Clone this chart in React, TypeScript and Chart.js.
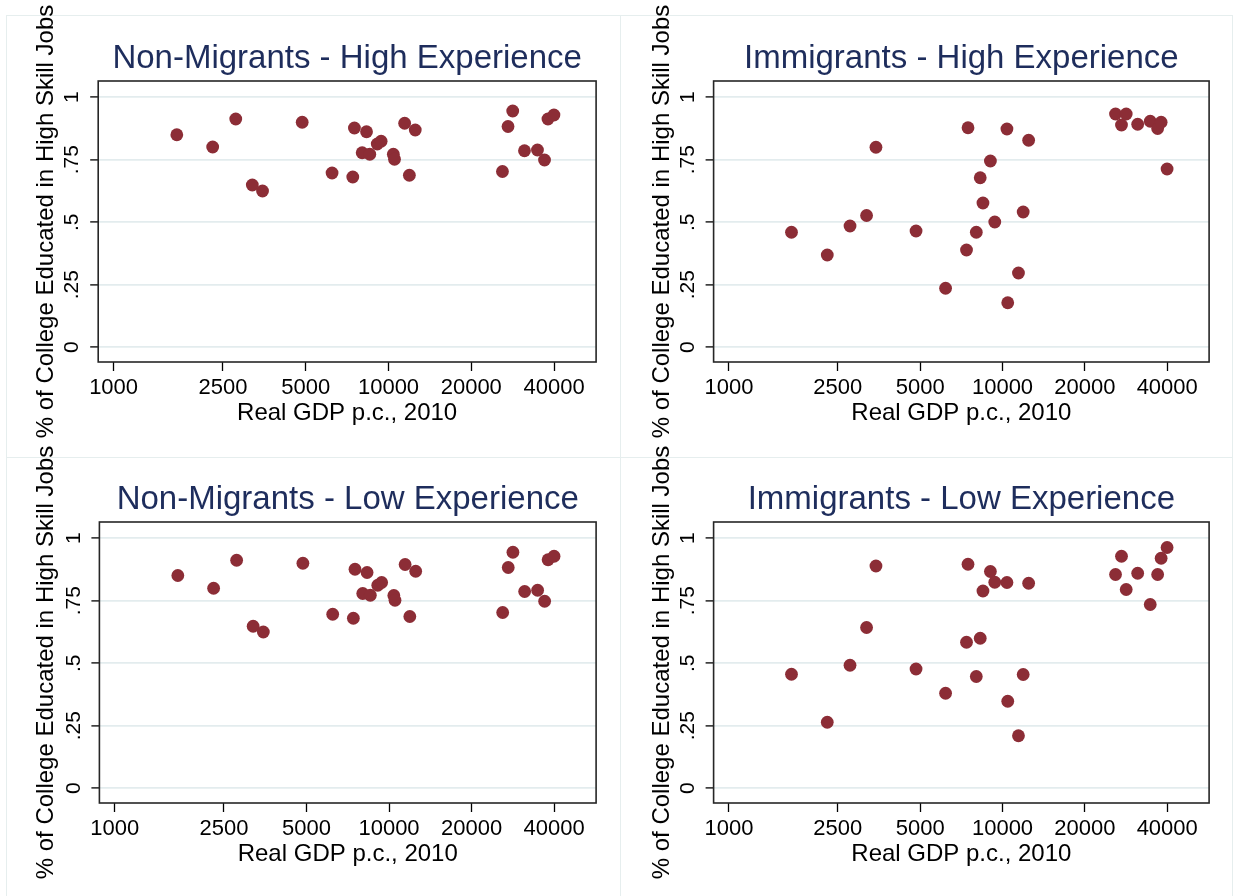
import React, { useEffect, useRef } from 'react';
import { Chart, registerables } from 'chart.js';

Chart.register(...registerables);

// ---- data ----
const gdpNonMigrants = [1698, 2293, 2782, 3196, 3481, 4853, 6233, 7413, 7516, 8020, 8318, 8549, 9100, 9400, 10413, 10515, 11448, 11909, 12510, 25970, 27210, 28300, 31230, 34820, 36940, 38020, 39970];
const shareNonMigrantsHigh = [0.850, 0.801, 0.913, 0.649, 0.625, 0.900, 0.697, 0.681, 0.877, 0.778, 0.862, 0.772, 0.813, 0.824, 0.772, 0.752, 0.896, 0.688, 0.869, 0.703, 0.883, 0.945, 0.786, 0.789, 0.749, 0.913, 0.929];
const shareNonMigrantsLow = [0.851, 0.800, 0.912, 0.648, 0.625, 0.900, 0.696, 0.680, 0.876, 0.779, 0.863, 0.772, 0.812, 0.823, 0.771, 0.752, 0.895, 0.687, 0.868, 0.703, 0.883, 0.944, 0.787, 0.792, 0.748, 0.914, 0.928];

const gdpImmigrants = [1693, 2288, 2771, 3185, 3447, 4830, 6193, 7386, 7480, 8020, 8290, 8482, 9031, 9370, 10380, 10450, 11437, 11900, 12460, 25890, 27220, 28320, 31190, 34670, 36900, 38000, 39950];
const shareImmigrantsHigh = [0.460, 0.369, 0.485, 0.527, 0.800, 0.465, 0.236, 0.389, 0.878, 0.460, 0.678, 0.577, 0.745, 0.501, 0.873, 0.178, 0.297, 0.541, 0.828, 0.933, 0.889, 0.933, 0.892, 0.904, 0.875, 0.900, 0.713];
const shareImmigrantsLow = [0.456, 0.264, 0.492, 0.643, 0.889, 0.477, 0.380, 0.584, 0.896, 0.447, 0.600, 0.789, 0.867, 0.824, 0.823, 0.348, 0.210, 0.455, 0.820, 0.855, 0.928, 0.795, 0.860, 0.735, 0.855, 0.920, 0.963];

const xTickValues = [1000, 2500, 5000, 10000, 20000, 40000];
const xTickLabels = ['1000', '2500', '5000', '10000', '20000', '40000'];
const yTickValues = [0, 0.25, 0.5, 0.75, 1];
const yTickLabels = ['0', '.25', '.5', '.75', '1'];

const panelTitles = [
  'Non-Migrants - High Experience',
  'Immigrants - High Experience',
  'Non-Migrants - Low Experience',
  'Immigrants - Low Experience',
];
const xAxisTitle = 'Real GDP p.c., 2010';
const yAxisTitle = '% of College Educated in High Skill Jobs';

const FONT = "'Liberation Sans', Arial, Helvetica, sans-serif";
const CANVAS_H = 448;

const plotFrame = {
  id: 'plotFrame',
  beforeDatasetsDraw(chart: any) {
    const { ctx, chartArea: a } = chart;
    ctx.save();
    ctx.strokeStyle = '#262626';
    ctx.lineWidth = 1.6;
    ctx.strokeRect(a.left, a.top, a.right - a.left, a.bottom - a.top);
    ctx.restore();
  },
};

type PanelProps = {
  title: string;
  gdp: number[];
  share: number[];
  left: number;
  top: number;
  width: number;
  plotLeft: number;
  plotRight: number;
};

function Panel({ title, gdp, share, left, top, width, plotLeft, plotRight }: PanelProps) {
  const ref = useRef<HTMLCanvasElement | null>(null);
  useEffect(() => {
    if (!ref.current) return;
    const chart = new Chart(ref.current, {
      type: 'scatter',
      data: {
        datasets: [
          {
            data: gdp.map((g, i) => ({ x: g, y: share[i] })),
            backgroundColor: '#8c2d36',
            borderWidth: 0,
            pointRadius: 6.4,
            pointHoverRadius: 6.4,
          },
        ],
      },
      options: {
        animation: false,
        responsive: false,
        events: [],
        layout: { padding: { left: 0, top: 0, right: width - plotRight, bottom: CANVAS_H - 432 } },
        plugins: {
          legend: { display: false },
          tooltip: { enabled: false },
          title: {
            display: true,
            text: title,
            fullSize: false,
            color: '#1e2d5c',
            font: { family: FONT, size: 33, weight: 'normal', lineHeight: 1.2 },
            padding: { top: 39.2, bottom: 2.2 },
          },
        },
        scales: {
          x: {
            type: 'logarithmic',
            position: 'bottom',
            min: 879,
            max: 56900,
            bounds: 'data',
            afterBuildTicks: (s: any) => {
              s.ticks = xTickValues.map((v) => ({ value: v }));
            },
            afterFit: (s: any) => {
              s.height = 70;
            },
            ticks: {
              callback: (v: any) => xTickLabels[xTickValues.indexOf(Number(v))],
              autoSkip: false,
              maxRotation: 0,
              minRotation: 0,
              padding: 4,
              color: '#000',
              font: { family: FONT, size: 22 },
            },
            grid: {
              drawOnChartArea: false,
              drawTicks: true,
              tickLength: 9,
              tickColor: '#000',
              tickWidth: 1.3,
            },
            border: { display: false },
            title: {
              display: true,
              text: xAxisTitle,
              color: '#000',
              font: { family: FONT, size: 24, lineHeight: 1.2 },
              padding: { top: 0, bottom: 4.3 },
            },
          },
          y: {
            type: 'linear',
            position: 'left',
            min: -0.059,
            max: 1.065,
            bounds: 'data',
            afterBuildTicks: (s: any) => {
              s.ticks = yTickValues.map((v) => ({ value: v }));
            },
            afterFit: (s: any) => {
              s.width = plotLeft;
            },
            ticks: {
              callback: (v: any) => yTickLabels[yTickValues.indexOf(Number(v))],
              autoSkip: false,
              minRotation: 90,
              maxRotation: 90,
              crossAlign: 'center',
              padding: 3,
              color: '#000',
              font: { family: FONT, size: 21 },
            },
            grid: {
              color: '#e3ecee',
              lineWidth: 1.8,
              drawTicks: true,
              tickLength: 8,
              tickColor: '#000',
              tickWidth: 1.3,
            },
            border: { display: false },
            title: {
              display: true,
              text: yAxisTitle,
              color: '#000',
              font: { family: FONT, size: 24, lineHeight: 1.2 },
              padding: { top: 32, bottom: 0 },
            },
          },
        },
      } as any,
      plugins: [plotFrame],
    });
    return () => chart.destroy();
  }, []);
  return (
    <canvas
      ref={ref}
      width={width}
      height={CANVAS_H}
      style={{ position: 'absolute', left, top, width, height: CANVAS_H, display: 'block' }}
    />
  );
}

const frameColor = '#e6eeee';

export default function App() {
  const line = (l: number, t: number, w: number, h: number) => (
    <div style={{ position: 'absolute', left: l, top: t, width: w, height: h, background: frameColor }} />
  );
  return (
    <div style={{ position: 'absolute', left: 0, top: 0, width: 1233, height: 896, background: '#fff', overflow: 'hidden' }}>
      {line(6, 15, 1227, 1)}
      {line(6, 457, 1227, 1)}
      {line(6, 15, 1, 881)}
      {line(620, 15, 1, 881)}
      {line(1232, 15, 1, 881)}
      <Panel title={panelTitles[0]} gdp={gdpNonMigrants} share={shareNonMigrantsHigh} left={0} top={0} width={616} plotLeft={98.2} plotRight={596.1} />
      <Panel title={panelTitles[1]} gdp={gdpImmigrants} share={shareImmigrantsHigh} left={616} top={0} width={617} plotLeft={97.6} plotRight={593.1} />
      <Panel title={panelTitles[2]} gdp={gdpNonMigrants} share={shareNonMigrantsLow} left={0} top={441} width={616} plotLeft={99.4} plotRight={596.1} />
      <Panel title={panelTitles[3]} gdp={gdpImmigrants} share={shareImmigrantsLow} left={616} top={441} width={617} plotLeft={97.6} plotRight={593.1} />
    </div>
  );
}
